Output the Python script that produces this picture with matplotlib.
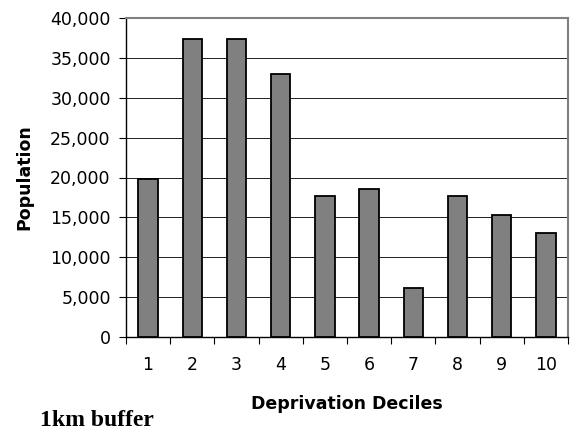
import numpy as np
from matplotlib import pyplot as plt
from matplotlib.ticker import FuncFormatter

deciles = ['1', '2', '3', '4', '5', '6', '7', '8', '9', '10']
population = [19800, 37400, 37400, 33000, 17700, 18600, 6150, 17700, 15300, 13000]

plt.rcParams['font.family'] = ['DejaVu Sans']

fig = plt.figure(figsize=(5.72, 4.30), dpi=100)
ax = fig.add_axes([126/572, (430-336.7)/430, 442/572, 318.4/430])

x = np.arange(len(deciles))
ax.bar(x, population, width=0.44, color='#808080', edgecolor='black', linewidth=1.3, zorder=3)

ax.set_xlim(-0.5, len(deciles) - 0.5)
ax.set_ylim(0, 40000)
ax.set_yticks(np.arange(0, 40001, 5000))
ax.yaxis.set_major_formatter(FuncFormatter(lambda v, p: f'{int(v):,}'))
ax.set_xticks(x)
ax.set_xticklabels(deciles)
ax.set_xticks(np.arange(-0.5, len(deciles)), minor=True)
ax.tick_params(axis='x', which='major', length=0, pad=14, labelsize=12.5)
ax.tick_params(axis='x', which='minor', length=5, width=0.8, direction='out')
ax.tick_params(axis='y', length=5, width=0.8, direction='out', labelsize=12.5, pad=6)

ax.grid(axis='y', color='#202020', linewidth=0.7, zorder=0)
ax.set_axisbelow(True)

for s in ['top', 'right']:
    ax.spines[s].set_color('#808080')
    ax.spines[s].set_linewidth(1.5)
for s in ['left', 'bottom']:
    ax.spines[s].set_color('black')
    ax.spines[s].set_linewidth(1.0)

ax.set_ylabel('Population', fontsize=12.5, fontweight='bold')
ax.yaxis.set_label_coords((24 - 126) / 442, 0.5)
ax.set_xlabel('Deprivation Deciles', fontsize=12.5, fontweight='bold')
ax.xaxis.set_label_coords(0.5, (336.7 - 404) / 318.4)
ax.xaxis.label.set_va('center')
ax.yaxis.label.set_va('center')

fig.text(40/572, 1 - 426/430, '1km buffer', family='Liberation Serif',
         fontweight='bold', fontsize=17, va='baseline', ha='left')

fig.savefig('out.png', dpi=100)
